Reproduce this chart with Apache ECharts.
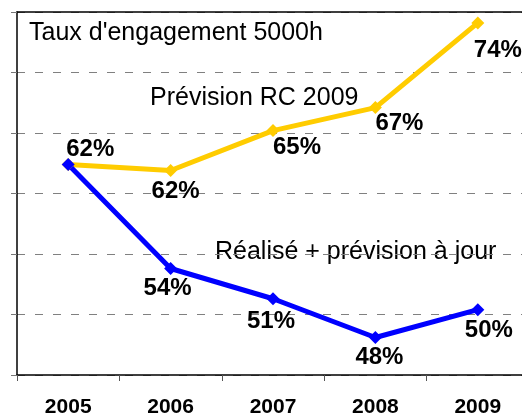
<!DOCTYPE html>
<html lang="fr">
<head>
<meta charset="utf-8" />
<script type="text/javascript" src="https://cdn.jsdelivr.net/npm/echarts@6/dist/echarts.min.js"></script>
<style>
  html, body { margin: 0; padding: 0; background: #fff; }
  #main { width: 522px; height: 415px; }
</style>
</head>
<body>
<div id="main"></div>
<script type="text/javascript">
var years = ['2005', '2006', '2007', '2008', '2009'];
var prevision = [62.4, 61.9, 65.2, 67.1, 74.1];   // Prévision RC 2009
var realise = [62.4, 53.8, 51.3, 48.1, 50.4];     // Réalisé + prévision à jour
var yMin = 45, yMax = 75, yStep = 5;

// where each value label sits relative to its point
var prevLabelPos = [[22, -15], [5, 21], [24, 17], [24, 16], [20, 27]];
var realLabelPos = [null, [-3, 20], [-2, 23], [4, 20], [11, 21]];

var labelFont = { fontFamily: 'Liberation Sans, Arial', fontWeight: 'bold', fontSize: 24, color: '#000' };

function items(vals, pos) {
  return vals.map(function (v, i) {
    var p = pos[i];
    return {
      value: v,
      label: p ? Object.assign({ show: true, position: 'inside', offset: p,
        formatter: Math.round(v) + '%' }, labelFont) : { show: false }
    };
  });
}

var myChart = echarts.init(document.getElementById('main'));
var option = {
  animation: false,
  grid: { left: 17, top: 12, right: -7, bottom: 40, outerBoundsMode: 'none', containLabel: false },
  xAxis: [{
    type: 'category',
    data: years,
    boundaryGap: true,
    axisLine: { lineStyle: { color: '#000', width: 1.5 } },
    axisTick: { show: true, length: 6, lineStyle: { color: '#555' } },
    axisLabel: { margin: 22, fontFamily: 'Liberation Sans, Arial', fontWeight: 'bold', fontSize: 21, color: '#000' }
  }, {
    type: 'category',
    data: years,
    position: 'top',
    axisLine: { show: true, lineStyle: { color: '#000', width: 1.5 } },
    axisTick: { show: false },
    axisLabel: { show: false }
  }],
  yAxis: {
    type: 'value',
    min: yMin, max: yMax, interval: yStep,
    axisLine: { show: true, lineStyle: { color: '#000', width: 1.5 } },
    axisTick: { show: true, length: 6, lineStyle: { color: '#777' } },
    axisLabel: { show: false },
    splitLine: { lineStyle: { color: '#808080', type: [8, 10], width: 1 } }
  },
  graphic: [
    { type: 'text', left: 29, top: 21, z: -1,
      style: { text: "Taux d'engagement 5000h", font: '25px Liberation Sans, Arial', fill: '#000' } },
    { type: 'text', left: 150, top: 86, z: -1,
      style: { text: 'Prévision RC 2009', font: '25px Liberation Sans, Arial', fill: '#000' } },
    { type: 'text', left: 215, top: 240, z: -1,
      style: { text: 'Réalisé + prévision à jour', font: '25px Liberation Sans, Arial', fill: '#000' } }
  ],
  series: [{
    name: 'Prévision RC 2009',
    type: 'line',
    data: items(prevision, prevLabelPos),
    symbol: 'diamond', symbolSize: 13,
    lineStyle: { color: '#FFCC00', width: 5 },
    itemStyle: { color: '#FFCC00' }
  }, {
    name: 'Réalisé + prévision à jour',
    type: 'line',
    data: items(realise, realLabelPos),
    symbol: 'diamond', symbolSize: 13,
    lineStyle: { color: '#0000FF', width: 5 },
    itemStyle: { color: '#0000FF' }
  }]
};
myChart.setOption(option);
</script>
</body>
</html>
